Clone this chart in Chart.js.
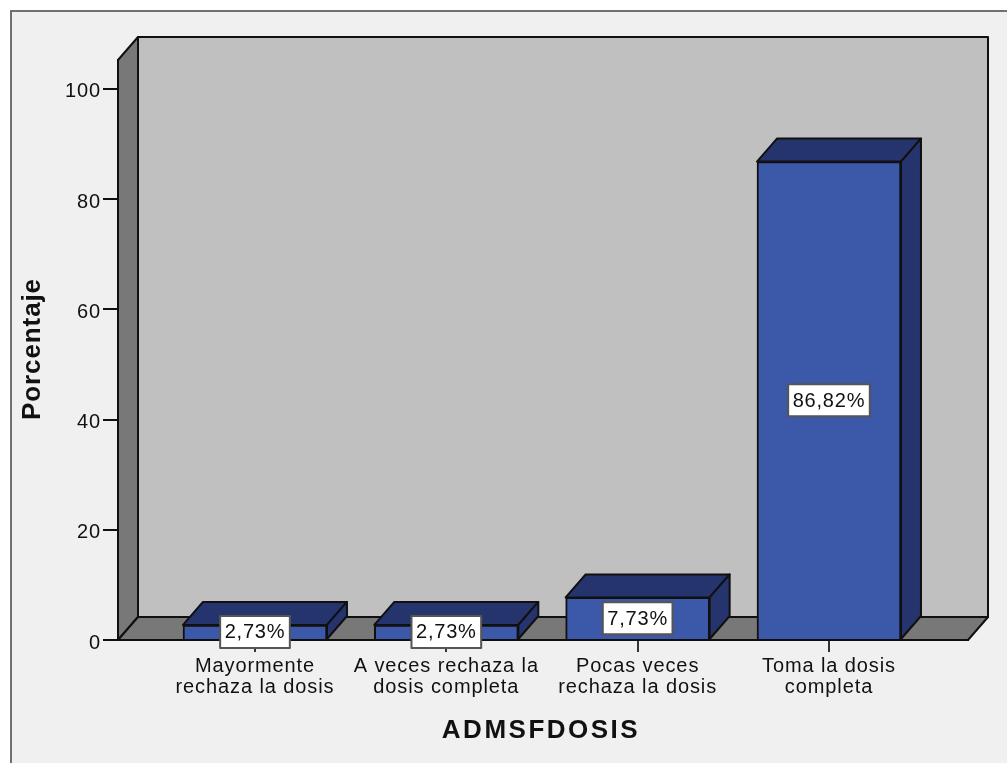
<!DOCTYPE html>
<html lang="es">
<head>
<meta charset="utf-8">
<title>ADMSFDOSIS</title>
<script src="https://cdn.jsdelivr.net/npm/chart.js@4"></script>
<style>
  html, body { margin: 0; padding: 0; background: #fff; }
  canvas { display: block; }
</style>
</head>
<body>
<canvas id="chart" width="1007" height="763"></canvas>
<script>
const categories = [
  ["Mayormente", "rechaza la dosis"],
  ["A veces rechaza la", "dosis completa"],
  ["Pocas veces", "rechaza la dosis"],
  ["Toma la dosis", "completa"]
];
const percentages = [2.73, 2.73, 7.73, 86.82];
const yTicks = [0, 20, 40, 60, 80, 100];
const xTitle = "ADMSFDOSIS";
const yTitle = "Porcentaje";

const FONT = '"Liberation Sans", Arial, sans-serif';
const DEPTH_X = 20;
const DEPTH_Y = 23;
const OUTLINE = "#101010";

const poly = (ctx, pts, fill) => {
  ctx.beginPath();
  pts.forEach(([x, y], i) => (i ? ctx.lineTo(x, y) : ctx.moveTo(x, y)));
  ctx.closePath();
  ctx.fillStyle = fill;
  ctx.fill();
  ctx.lineWidth = 2;
  ctx.strokeStyle = OUTLINE;
  ctx.lineJoin = "round";
  ctx.stroke();
};

// panel, back wall, side wall and floor of the 3D box
const boxPlugin = {
  id: "box",
  beforeDraw(chart) {
    const { ctx, scales: { x, y } } = chart;
    const l = x.left, r = x.right, t = y.top, b = y.bottom;
    ctx.letterSpacing = "0.9px";
    ctx.fillStyle = "#fff";
    ctx.fillRect(0, 0, chart.width, chart.height);
    ctx.fillStyle = "#f0f0f0";
    ctx.fillRect(11, 11, chart.width, chart.height);
    ctx.strokeStyle = "#707070";
    ctx.lineWidth = 2;
    ctx.beginPath();
    ctx.moveTo(11, chart.height);
    ctx.lineTo(11, 11);
    ctx.lineTo(chart.width, 11);
    ctx.stroke();

    poly(ctx, [[l + DEPTH_X, t - DEPTH_Y], [r + DEPTH_X, t - DEPTH_Y], [r + DEPTH_X, b - DEPTH_Y], [l + DEPTH_X, b - DEPTH_Y]], "#c0c0c0");
    poly(ctx, [[l, t], [l + DEPTH_X, t - DEPTH_Y], [l + DEPTH_X, b - DEPTH_Y], [l, b]], "#787878");
    poly(ctx, [[l, b], [l + DEPTH_X, b - DEPTH_Y], [r + DEPTH_X, b - DEPTH_Y], [r, b]], "#787878");
  },
  // top and side faces behind each bar
  beforeDatasetsDraw(chart) {
    const { ctx } = chart;
    chart.getDatasetMeta(0).data.forEach((bar) => {
      const l = bar.x - bar.width / 2, r = bar.x + bar.width / 2;
      poly(ctx, [[l, bar.y], [l + DEPTH_X, bar.y - DEPTH_Y], [r + DEPTH_X, bar.y - DEPTH_Y], [r, bar.y]], "#25346c");
      poly(ctx, [[r, bar.y], [r + DEPTH_X, bar.y - DEPTH_Y], [r + DEPTH_X, bar.base - DEPTH_Y], [r, bar.base]], "#25346c");
    });
  },
  // value boxes in the middle of the bars, then the axis titles
  afterDatasetsDraw(chart) {
    const { ctx } = chart;
    ctx.save();
    ctx.letterSpacing = "0.8px";
    ctx.font = "20px " + FONT;
    ctx.textAlign = "center";
    ctx.textBaseline = "middle";
    chart.getDatasetMeta(0).data.forEach((bar, i) => {
      const text = percentages[i].toFixed(2).replace(".", ",") + "%";
      const w = ctx.measureText(text).width + 9, h = 32;
      const cy = (bar.y + bar.base) / 2;
      ctx.fillStyle = "#fff";
      ctx.fillRect(bar.x - w / 2, cy - h / 2, w, h);
      ctx.lineWidth = 2;
      ctx.strokeStyle = "#555";
      ctx.strokeRect(bar.x - w / 2, cy - h / 2, w, h);
      ctx.fillStyle = "#111";
      ctx.fillText(text, bar.x, cy + 1);
    });

    ctx.font = "bold 26px " + FONT;
    ctx.letterSpacing = "2.5px";
    ctx.fillText(xTitle, 541, 731);
    ctx.translate(33, 349);
    ctx.rotate(-Math.PI / 2);
    ctx.letterSpacing = "0.9px";
    ctx.fillText(yTitle, 0, 0);
    ctx.restore();
  }
};

new Chart(document.getElementById("chart"), {
  type: "bar",
  data: {
    datasets: [{
      data: categories.map((_, i) => ({ x: i + 1, y: percentages[i] })),
      backgroundColor: "#3c58a8",
      borderColor: OUTLINE,
      borderWidth: 2,
      barThickness: 144
    }]
  },
  options: {
    responsive: false,
    animation: false,
    layout: { padding: { top: 60, right: 39, left: 0, bottom: 0 } },
    plugins: { legend: { display: false }, tooltip: { enabled: false } },
    scales: {
      x: {
        type: "linear",
        offset: false,
        min: 0.284,
        max: 4.7266,
        afterFit: (scale) => { scale.height = 123; },
        afterBuildTicks: (scale) => { scale.ticks = categories.map((_, i) => ({ value: i + 1 })); },
        grid: { offset: false, drawOnChartArea: false, color: "#333", tickLength: 12, lineWidth: 2 },
        border: { color: OUTLINE, width: 2 },
        ticks: {
          autoSkip: false,
          maxRotation: 0,
          padding: 4,
          color: "#111",
          font: { family: FONT, size: 20, lineHeight: 1.05 },
          callback: (value) => categories[value - 1]
        }
      },
      y: {
        min: 0,
        max: 105.26,
        afterFit: (scale) => { scale.width = 118; },
        afterBuildTicks: (scale) => { scale.ticks = yTicks.map((value) => ({ value })); },
        grid: { drawOnChartArea: false, color: "#111", tickLength: 15, lineWidth: 2 },
        border: { color: OUTLINE, width: 2 },
        ticks: {
          padding: 2,
          labelOffset: 3,
          color: "#111",
          font: { family: FONT, size: 20 }
        }
      }
    }
  },
  plugins: [boxPlugin]
});
</script>
</body>
</html>
